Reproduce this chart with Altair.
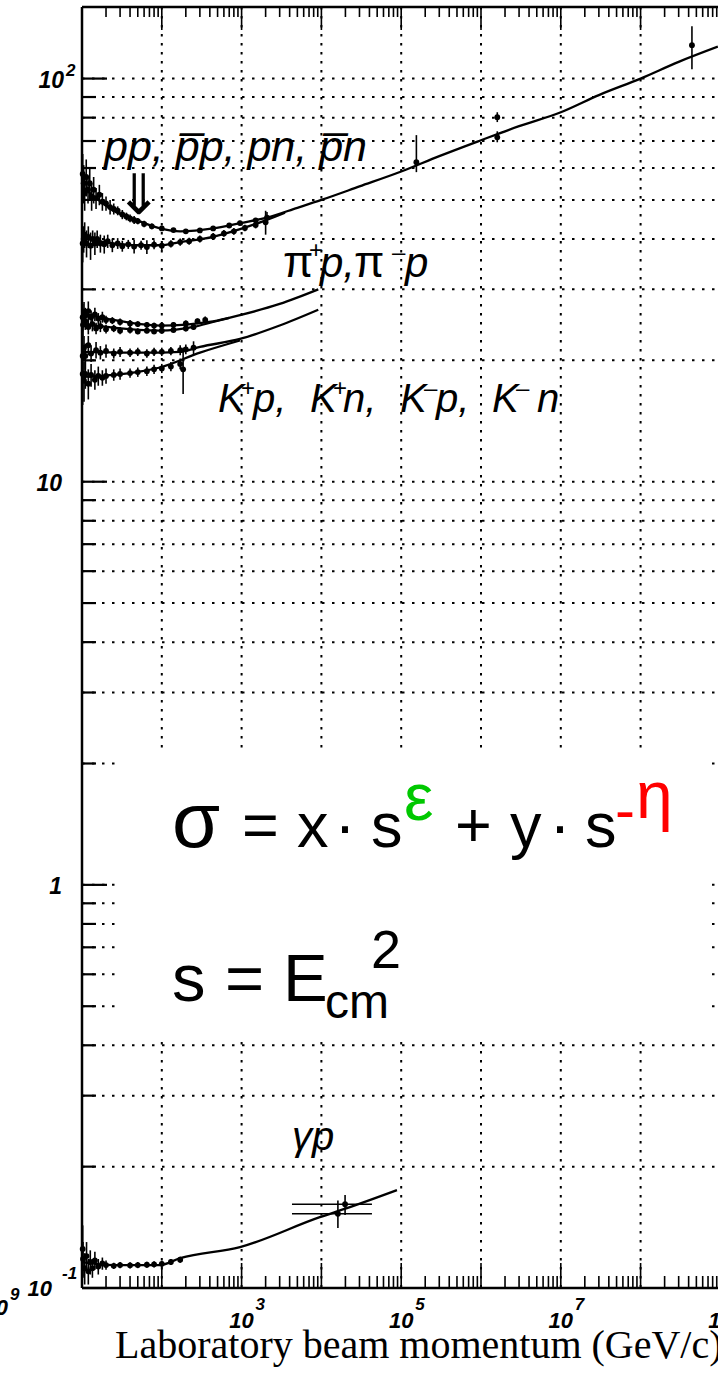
import altair as alt
import pandas as pd

# Plot-area size in pixels (log-log: ~79.8 px per decade in x, ~403 px per decade in y)
W, H = 636, 1281
SANS = "Liberation Sans"
SERIF = "Liberation Serif"

xs = alt.Scale(type="log", domain=[10, 10 ** 8.97], nice=False, zero=False)
ys = alt.Scale(type="log", domain=[0.1, 150.5], nice=False, zero=False)

# ---------------- fitted curves (p in GeV/c, sigma in mb) ----------------
PBARP_FIT_P = [10, 15, 24.5, 49, 95, 170, 440, 955, 2080, 5000, 1e4, 3e4, 1e5, 3e5, 1e6, 3e6, 1e7, 3e7, 1e8, 3e8, 9.3e8]
PBARP_FIT_S = [54, 50.5, 47.1, 44.5, 42.5, 41.8, 42.5, 43.8, 45.2, 47.8, 50, 54, 58.8, 64.2, 70.3, 76.2, 82.5, 91, 100, 110, 120]

PP_FIT_P = [10, 24.5, 49, 95, 170, 440, 955, 2000, 3500]
PP_FIT_S = [40.2, 39.0, 38.6, 38.6, 39.3, 40.5, 42.3, 44.5, 46.5]

PIM_FIT_P = [10, 24.5, 95, 438, 955, 3000, 9140]
PIM_FIT_S = [26.2, 25.2, 24.4, 25.0, 25.9, 27.6, 30.0]

PIP_FIT_P = [10, 24.5, 95, 250, 438, 700]
PIP_FIT_S = [24.7, 24.1, 23.7, 24.2, 24.9, 25.5]

KM_FIT_P = [10, 60, 170, 301, 955, 3000, 9140]
KM_FIT_S = [21.0, 20.9, 21.0, 21.6, 22.6, 24.4, 26.7]

KP_FIT_P = [10, 40, 95, 301, 955]
KP_FIT_S = [18.2, 18.6, 19.2, 20.9, 22.4]

GP_FIT_P = [10, 24.5, 95, 170, 955, 9550, 20900, 88500]
GP_FIT_S = [0.116, 0.114, 0.114, 0.1186, 0.1263, 0.1499, 0.1578, 0.1749]

# ---------------- measured points (p, sigma, error) ----------------
PBARP_P = [10.2, 10.5, 10.8, 11.3, 11.9, 12.5, 13.2, 14, 15, 16.5, 18, 20, 22.5, 25, 28, 32, 36, 40, 45, 50, 60, 75, 100, 140, 200, 300, 440, 700, 955, 1500, 2080]
PBARP_S = [58, 55, 52, 57, 53, 55, 51, 53, 50.5, 51.5, 49.5, 49, 48, 47.5, 47, 46, 45.5, 45, 44.6, 44.3, 43.6, 43, 42.5, 42.1, 41.8, 42, 42.5, 43.2, 43.8, 44.5, 45.2]
PBARP_E = [7, 6, 5, 6, 4, 5, 4, 4, 3, 3, 2.5, 2, 2, 1.5, 1.2, 1.2, 1, 1, 1, 0.8, 0.8, 0.7, 0.6, 0.5, 0.5, 0.5, 0.5, 0.5, 0.6, 0.6, 1.5]

PP_P = [10.2, 10.5, 10.8, 11.4, 12, 12.8, 13.6, 14.5, 15.5, 17, 19, 21, 24, 28, 32, 38, 45, 55, 65, 80, 100, 130, 170, 220, 300, 440, 600, 800, 1100, 1500, 2000]
PP_S = [39, 40, 41, 39, 40.5, 38.5, 40, 39, 40, 39, 38.8, 39.5, 38.6, 39, 38.4, 38.8, 38.3, 38.6, 38.2, 38.7, 38.5, 38.9, 39.3, 39.5, 40, 40.6, 41.3, 41.8, 42.6, 43.3, 44]
PP_E = [4, 3, 3, 3, 2.5, 3, 2, 2.5, 2, 2, 2, 1.5, 1.5, 1.2, 1.2, 1, 1.5, 1, 1.5, 1, 1, 0.8, 0.8, 0.8, 0.8, 0.8, 0.8, 0.8, 0.8, 0.8, 3]

PIM_P = [10.2, 10.6, 11, 12, 13, 14.5, 16, 18, 20, 24, 30, 40, 50, 65, 80, 100, 140, 200, 280, 350]
PIM_S = [25.6, 26.4, 25.8, 26.5, 25.6, 26, 25.4, 25.6, 25.2, 25.1, 24.9, 24.7, 24.6, 24.5, 24.4, 24.4, 24.5, 24.7, 25, 25.2]
PIM_E = [2, 1.5, 1.2, 1.5, 1, 1, 0.8, 0.8, 0.6, 0.5, 0.5, 0.5, 0.4, 0.4, 0.4, 0.4, 0.4, 0.4, 0.4, 0.5]

PIP_P = [10.3, 11, 12, 13.5, 15, 17, 20, 25, 30, 40, 50, 65, 80, 100, 140, 200, 250]
PIP_S = [24.5, 25, 24.2, 24.6, 24.0, 24.3, 23.9, 24.0, 23.7, 23.8, 23.6, 23.7, 23.6, 23.7, 23.8, 24.0, 24.2]
PIP_E = [1.5, 1.2, 1, 1, 0.8, 0.8, 0.6, 0.5, 0.5, 0.5, 0.4, 0.4, 0.4, 0.4, 0.4, 0.4, 0.4]

KM_P = [10.2, 10.6, 11, 12, 13, 15, 17, 20, 25, 30, 40, 50, 65, 80, 100, 130, 170, 185, 200, 250]
KM_S = [20.5, 21.5, 20.5, 21.8, 20.8, 21.2, 20.9, 21.1, 20.8, 21, 20.9, 21, 20.8, 21, 21.0, 21.1, 21.2, 19.0, 21.3, 21.5]
KM_E = [2.5, 1.5, 1.5, 1.2, 1, 1, 0.8, 0.8, 0.6, 0.6, 0.5, 0.5, 0.5, 0.5, 0.5, 0.5, 0.6, 2.5, 0.6, 0.8]

KP_P = [10.2, 10.6, 11, 12, 13, 14.5, 16, 18, 20, 25, 30, 40, 50, 65, 80, 100, 130, 170]
KP_S = [18.5, 17.8, 18.5, 17.5, 18.4, 17.9, 18.3, 18.1, 18.3, 18.4, 18.5, 18.6, 18.7, 18.8, 19.0, 19.1, 19.3, 19.6]
KP_E = [3, 2, 1.5, 1.5, 1.2, 1, 1, 0.8, 0.8, 0.6, 0.6, 0.5, 0.5, 0.5, 0.5, 0.5, 0.5, 0.6]

GP_P = [10.2, 10.3, 10.8, 11.4, 12, 12.7, 13.5, 14.5, 16, 18, 20, 25, 30, 40, 50, 65, 80, 100, 130, 170]
GP_S = [0.125, 0.118, 0.112, 0.12, 0.11, 0.116, 0.112, 0.117, 0.113, 0.115, 0.114, 0.1135, 0.114, 0.1138, 0.114, 0.1142, 0.1145, 0.1148, 0.116, 0.1175]
GP_E = [0.018, 0.012, 0.01, 0.01, 0.008, 0.008, 0.006, 0.006, 0.005, 0.004, 0.003, 0.002, 0.002, 0.002, 0.002, 0.002, 0.002, 0.002, 0.002, 0.002]

# collider / cosmic-ray points (asymmetric bars)
HE_P = [1.55e5, 1.6e6, 1.6e6, 4.4e8]
HE_S = [62, 80.2, 71.5, 121]
HE_LO = [58.6, 78, 69.5, 105.5]
HE_HI = [72.4, 82.5, 74, 134.8]

# HERA photoproduction points (wide momentum bins)
HERA_P = [19800, 16100]
HERA_S = [0.1614, 0.1528]
HERA_LO = [0.1517, 0.1409]
HERA_HI = [0.170, 0.1649]
HERA_PLO = [4280, 4280]
HERA_PHI = [43000, 43000]

# ---------------- axes ----------------
X_MAJOR = [10.0 ** e for e in range(1, 9)]
X_MINOR = [k * 10.0 ** e for e in range(1, 9) for k in range(2, 10)]
X_GRID = [10.0 ** e for e in range(2, 9)]
Y_MAJOR = [0.1, 1, 10, 100]
Y_MINOR = [k * 10.0 ** e for e in range(-1, 2) for k in range(2, 10)]
Y_GRID = [v for v in Y_MAJOR + Y_MINOR if v > 0.1]

X_LABEL_VALUES = [1e3, 1e5, 1e7, 1e9]
X_LABEL_EXPS = ["3", "5", "7", "9"]

X_TITLE = "Laboratory beam momentum (GeV/c)"


def frame(name, ps, ss):
    return pd.DataFrame({"series": name, "p": ps, "s": ss})


def points(name, ps, ss, es):
    d = pd.DataFrame({"series": name, "p": ps, "s": ss, "e": es})
    d["lo"] = d["s"] - d["e"]
    d["hi"] = d["s"] + d["e"]
    return d


X = lambda f: alt.X(f, type="quantitative", scale=xs, axis=None)
Y = lambda f: alt.Y(f, type="quantitative", scale=ys, axis=None)

fits = pd.concat([
    frame("pbarp", PBARP_FIT_P, PBARP_FIT_S),
    frame("pp", PP_FIT_P, PP_FIT_S),
    frame("pim", PIM_FIT_P, PIM_FIT_S),
    frame("pip", PIP_FIT_P, PIP_FIT_S),
    frame("km", KM_FIT_P, KM_FIT_S),
    frame("kp", KP_FIT_P, KP_FIT_S),
    frame("gp", GP_FIT_P, GP_FIT_S),
])

meas = pd.concat([
    points("pbarp", PBARP_P, PBARP_S, PBARP_E),
    points("pp", PP_P, PP_S, PP_E),
    points("pim", PIM_P, PIM_S, PIM_E),
    points("pip", PIP_P, PIP_S, PIP_E),
    points("km", KM_P, KM_S, KM_E),
    points("kp", KP_P, KP_S, KP_E),
    points("gp", GP_P, GP_S, GP_E),
    pd.DataFrame({"series": "he", "p": HE_P, "s": HE_S, "lo": HE_LO, "hi": HE_HI}),
    pd.DataFrame({"series": "hera", "p": HERA_P, "s": HERA_S, "lo": HERA_LO, "hi": HERA_HI}),
])
hera = pd.DataFrame({"p": HERA_P, "s": HERA_S, "plo": HERA_PLO, "phi": HERA_PHI})

one = pd.DataFrame({"k": [0]})

# ---- grid (dotted) ----
hgrid = alt.Chart(pd.DataFrame({"v": Y_GRID})).mark_rule(
    color="black", strokeWidth=2, strokeDash=[2.5, 7.5]
).encode(y=Y("v"), x=alt.value(0), x2=alt.value(W))
vgrid = alt.Chart(pd.DataFrame({"v": X_GRID})).mark_rule(
    color="black", strokeWidth=2, strokeDash=[2.5, 6.5]
).encode(x=X("v"), y=alt.value(0), y2=alt.value(H))

# white panel behind the formula
panel = alt.Chart(one).mark_rect(color="white").encode(
    x=alt.value(35), x2=alt.value(626), y=alt.value(743), y2=alt.value(1033)
)


# ---- frame and ticks (pointing inward) ----
def xticks(vals, length, top):
    enc = dict(x=X("v"))
    if top:
        enc.update(y=alt.value(0), y2=alt.value(length))
    else:
        enc.update(y=alt.value(H), y2=alt.value(H - length))
    return alt.Chart(pd.DataFrame({"v": vals})).mark_rule(color="black", strokeWidth=1.6).encode(**enc)


def yticks(vals, length):
    return alt.Chart(pd.DataFrame({"v": vals})).mark_rule(color="black", strokeWidth=2.2).encode(
        y=Y("v"), x=alt.value(0), x2=alt.value(length)
    )


ticks = [
    xticks(X_MAJOR, 25, False), xticks(X_MINOR, 12, False),
    xticks(X_MAJOR, 23, True), xticks(X_MINOR, 10, True),
    yticks(Y_MAJOR, 25), yticks(Y_MINOR, 14),
]

frame_lines = [
    alt.Chart(one).mark_rule(color="black", strokeWidth=2.5).encode(x=alt.value(0), y=alt.value(0), y2=alt.value(H)),
    alt.Chart(one).mark_rule(color="black", strokeWidth=2.5).encode(y=alt.value(0), x=alt.value(0), x2=alt.value(W)),
    alt.Chart(one).mark_rule(color="black", strokeWidth=2.5).encode(y=alt.value(H), x=alt.value(0), x2=alt.value(W)),
]

# ---- curves and data ----
lines = alt.Chart(fits).mark_line(color="black", strokeWidth=2.3, interpolate="monotone").encode(
    x=X("p"), y=Y("s"), detail="series:N"
)
bars = alt.Chart(meas).mark_rule(color="black", strokeWidth=1.6).encode(x=X("p"), y=Y("lo"), y2="hi:Q")
hbars = alt.Chart(hera).mark_rule(color="black", strokeWidth=1.6).encode(y=Y("s"), x=X("plo"), x2="phi:Q")
dots = alt.Chart(meas).mark_circle(color="black", size=34, opacity=1).encode(x=X("p"), y=Y("s"))


# ---- text helpers ----
def txt(text, x, y, size, font=SANS, style="normal", weight="normal", color="black", align="left"):
    return alt.Chart(one).mark_text(
        text=text, font=font, fontSize=size, fontStyle=style, fontWeight=weight,
        color=color, align=align, baseline="alphabetic",
    ).encode(x=alt.value(x), y=alt.value(y))


def ylabel(value, text, x, dy, size, align):
    return alt.Chart(pd.DataFrame({"v": [value]})).mark_text(
        text=text, font=SANS, fontSize=size, fontStyle="italic", fontWeight="bold",
        align=align, baseline="alphabetic", dy=dy,
    ).encode(x=alt.value(x), y=Y("v"))


xlab = pd.DataFrame({"v": X_LABEL_VALUES, "e": X_LABEL_EXPS})
xlabels = [
    alt.Chart(xlab).mark_text(font=SANS, fontSize=22, fontStyle="italic", fontWeight="bold",
                              align="center", baseline="alphabetic", text="10").encode(
        x=X("v"), y=alt.value(H + 40)),
    alt.Chart(xlab).mark_text(font=SANS, fontSize=17, fontStyle="italic", fontWeight="bold",
                              align="left", baseline="alphabetic", dx=14).encode(
        x=X("v"), y=alt.value(H + 22), text="e:N"),
]

ylabels = [
    ylabel(100, "10", -18, 9.5, 23, "right"), ylabel(100, "2", -16, -3, 17, "left"),
    ylabel(10, "10", -20, 9.5, 23, "right"),
    ylabel(1, "1", -20, 9, 23, "right"),
    ylabel(0.1, "10", -30, 7.5, 22, "right"), ylabel(0.1, "-1", -20, -9.5, 17, "left"),
]

# neighbouring panel's last x label, cut at the page edge
edge = [
    txt("10", -74, 1308, 22, style="italic", weight="bold", align="right"),
    txt("9", -72, 1293, 17, style="italic", weight="bold"),
]

title = txt(X_TITLE, 33, H + 70, 40, font=SERIF)


def it(text, x, y, size):
    return txt(text, x, y, size, style="italic")


# reaction labels, built from base glyphs and raised charge signs
labels = [
    it("pp, p\u0305p, pn, p\u0305n", 22, 154, 43),
    txt("\u21d3", 57, 207, 56, font="DejaVu Sans", align="center"),
    # pi+ p, pi- p
    txt("\u03c0", 201, 270, 44), txt("+", 227, 251, 24), it("p,", 238, 270, 42),
    txt("\u03c0", 272, 270, 44), txt("\u2013", 310, 253, 24), it("p", 323, 270, 42),
    # K+ p, K+ n, K- p, K- n
    it("K", 136, 405, 40), txt("+", 159, 389, 24), it("p,", 171, 405, 40),
    it("K", 228, 405, 40), txt("+", 251, 389, 24), it("n,", 261, 405, 40),
    it("K", 318, 405, 40), txt("\u2013", 342, 389, 24), it("p,", 354, 405, 40),
    it("K", 410, 405, 40), txt("\u2013", 434, 389, 24), it("n", 455, 405, 40),
    it("\u03b3p", 210, 1143, 40),
]

GREEN, RED = "#00c800", "#ff0000"
formula = [
    txt("\u03c3", 90, 840, 78),
    txt("=", 160, 840, 63),
    txt("x", 215, 840, 63),
    txt("\u00b7", 263, 840, 63, align="center"),
    txt("s", 289, 840, 63),
    txt("\u03b5", 322, 813, 66, color=GREEN),
    txt("+", 373, 840, 63),
    txt("y", 428, 840, 63),
    txt("\u00b7", 478, 840, 63, align="center"),
    txt("s", 503, 840, 63),
    txt("-", 533, 823, 60, color=RED),
    txt("\u03b7", 554, 811, 66, color=RED),
    txt("s", 90, 994, 67),
    txt("=", 143, 994, 67),
    txt("E", 201, 994, 67),
    txt("cm", 243, 1011, 48),
    txt("2", 289, 961, 54),
]

chart = alt.layer(
    hgrid, vgrid, panel, *ticks, *frame_lines, lines, bars, hbars, dots,
    *xlabels, *ylabels, *edge, title, *labels, *formula,
).properties(
    width=W, height=H,
    padding={"left": 82, "top": 7, "right": 0, "bottom": 86},
    autosize=alt.AutoSizeParams(type="none"),
    background="white",
).configure_view(stroke=None)

chart.save("out.html", embed_options={"renderer": "svg", "actions": False})
